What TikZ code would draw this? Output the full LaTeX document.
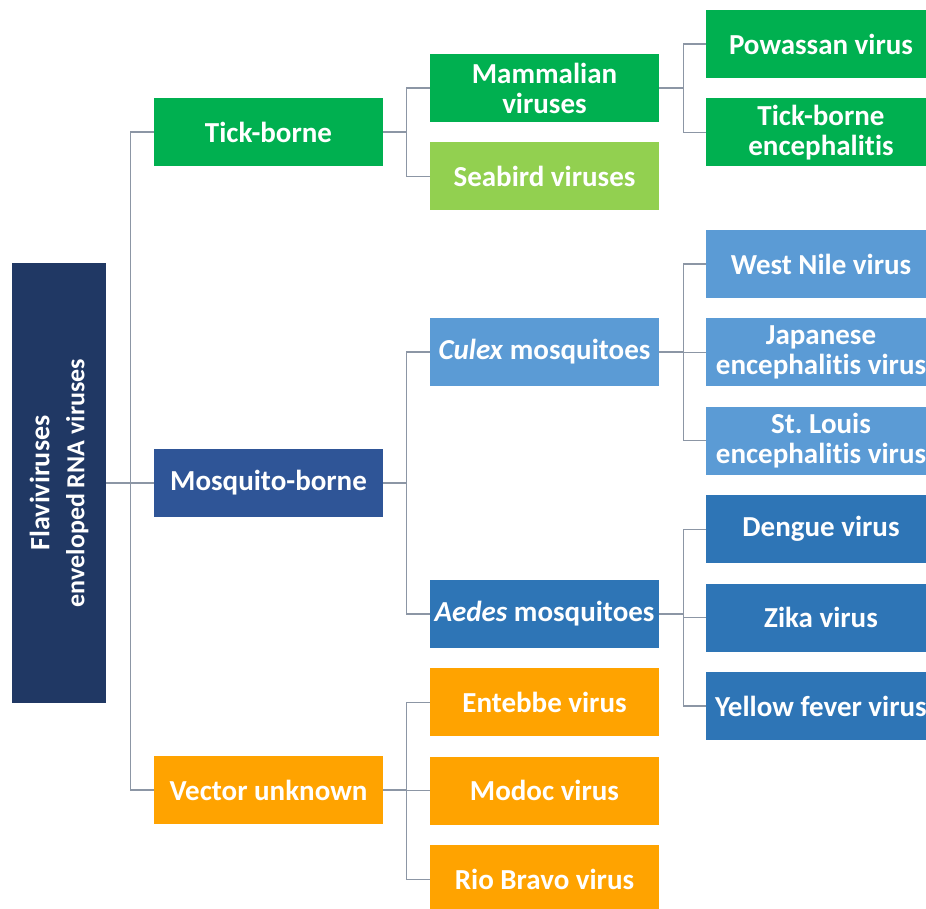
\documentclass[tikz,border=0pt]{standalone}
\usepackage{fontspec}
\setmainfont{Carlito}[Ligatures={NoCommon,NoContextual}, Contextuals=NoAlternate]
\usetikzlibrary{positioning}

\definecolor{navy}{HTML}{203864}
\definecolor{tickgreen}{HTML}{00B050}
\definecolor{birdgreen}{HTML}{92D050}
\definecolor{mosqblue}{HTML}{2F5597}
\definecolor{culexblue}{HTML}{5B9BD5}
\definecolor{aedesblue}{HTML}{2E75B6}
\definecolor{vecorange}{HTML}{FFA300}
\definecolor{linkgray}{HTML}{8C96A5}

\begin{document}
\begin{tikzpicture}[
    x=1pt, y=-1pt,
    node distance=20pt,
    box/.style={rectangle, inner sep=0pt, minimum width=229pt, minimum height=68pt, align=center, text=white, font=\fontsize{29}{30}\selectfont\bfseries},
    leaf/.style={box, minimum width=230pt},
    link/.style={draw=linkgray, line width=1.2pt}
]
    \useasboundingbox (0,0) rectangle (926,908);

    \node[box, fill=navy, rotate=90, minimum width=440pt, minimum height=94pt, font=\fontsize{28}{35}\selectfont\bfseries] (flavi) at (59,483) {Flaviviruses\\{\fontsize{26}{35}\selectfont enveloped RNA viruses}};

    \node[box, fill=tickgreen] (tick) at (268.5,132) {Tick-borne};
    \node[box, fill=mosqblue] (mosq) at (268.5,483) {Mosquito-borne};
    \node[box, fill=vecorange] (vector) at (268.5,790) {Vector unknown};

    \node[box, fill=tickgreen] (mammal) at (544.5,88) {Mammalian\\viruses};
    \node[box, fill=birdgreen, below=of mammal] (seabird) {Seabird viruses};
    \node[box, fill=culexblue] (culex) at (544.5,352) {\textit{Culex} mosquitoes};
    \node[box, fill=aedesblue] (aedes) at (544.5,614) {\textit{Aedes} mosquitoes};
    \node[box, fill=vecorange, below=of aedes] (entebbe) {Entebbe virus};
    \node[box, fill=vecorange, below=of entebbe] (modoc) {Modoc virus};
    \node[box, fill=vecorange, below=of modoc] (riobravo) {Rio Bravo virus};

    \node[leaf, fill=tickgreen] (powassan) at (821,44) {Powassan virus};
    \node[leaf, fill=tickgreen, below=of powassan] (tbe) {Tick-borne\\encephalitis};
    \node[leaf, fill=culexblue] (westnile) at (821,264) {West Nile virus};
    \node[leaf, fill=culexblue, below=of westnile] (japan) {Japanese\\encephalitis virus};
    \node[leaf, fill=culexblue, below=of japan] (stlouis) {St.\ Louis\\encephalitis virus};
    \node[leaf, fill=aedesblue, below=of stlouis] (dengue) {Dengue virus};
    \node[leaf, fill=aedesblue, below=of dengue] (zika) {Zika virus};
    \node[leaf, fill=aedesblue, below=of zika] (yellow) {Yellow fever virus};

    \foreach \kid in {tick, mosq, vector}
        \draw[link] (flavi.south) -- ++(24,0) |- (\kid.west);
    \foreach \kid in {mammal, seabird}
        \draw[link] (tick.east) -- ++(23,0) |- (\kid.west);
    \foreach \kid in {culex, aedes}
        \draw[link] (mosq.east) -- ++(23,0) |- (\kid.west);
    \foreach \kid in {entebbe, modoc, riobravo}
        \draw[link] (vector.east) -- ++(23,0) |- (\kid.west);
    \foreach \kid in {powassan, tbe}
        \draw[link] (mammal.east) -- ++(24,0) |- (\kid.west);
    \foreach \kid in {westnile, japan, stlouis}
        \draw[link] (culex.east) -- ++(24,0) |- (\kid.west);
    \foreach \kid in {dengue, zika, yellow}
        \draw[link] (aedes.east) -- ++(24,0) |- (\kid.west);
\end{tikzpicture}
\end{document}
